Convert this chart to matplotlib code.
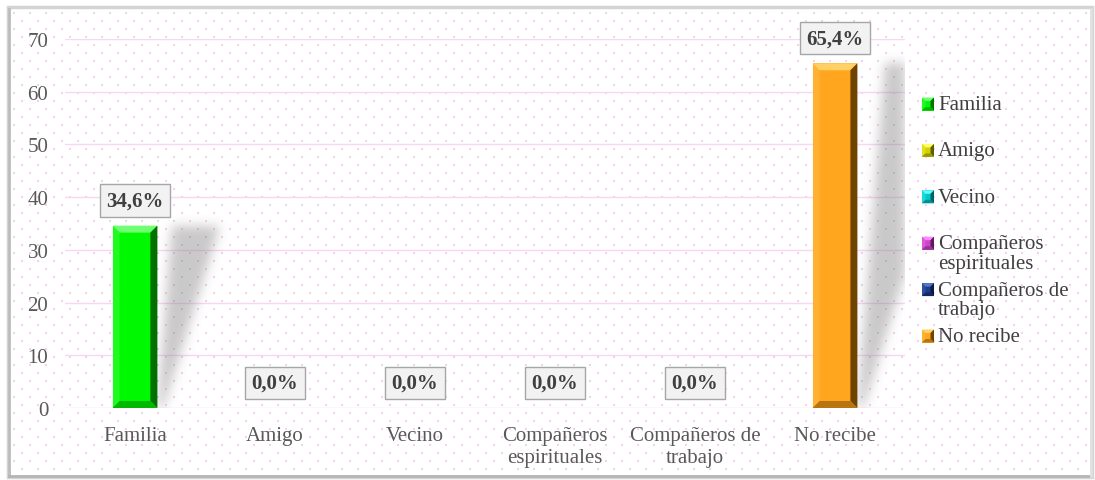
import numpy as np
import matplotlib
matplotlib.use("Agg")
import matplotlib.pyplot as plt
from matplotlib.patches import Rectangle, Polygon

plt.rcParams['font.family'] = 'serif'
plt.rcParams['font.serif'] = ['Liberation Serif', 'Times New Roman', 'DejaVu Serif']

# data
categories = ['Familia', 'Amigo', 'Vecino', 'Compañeros\nespirituales',
              'Compañeros de\ntrabajo', 'No recibe']
legend_labels = ['Familia', 'Amigo', 'Vecino', 'Compañeros\nespirituales',
                 'Compañeros de\ntrabajo', 'No recibe']
values = [34.6, 0.0, 0.0, 0.0, 0.0, 65.4]
value_labels = ['34,6%', '0,0%', '0,0%', '0,0%', '0,0%', '65,4%']
yticks = [0, 10, 20, 30, 40, 50, 60, 70]

# colours: main, light bevel, dark bevel, bottom bevel
main_colors = ['#00f800', '#d2d200', '#00c8c8', '#cc44cc', '#1c3c8c', '#ffa51e']
light_colors = ['#70ff70', '#ffff66', '#66ffff', '#ff88ff', '#5577cc', '#ffd066']
dark_colors = ['#007000', '#5e5e00', '#006060', '#5a1f5a', '#0a1a40', '#6e4400']
bottom_colors = ['#00b800', '#9a9a00', '#009090', '#993399', '#12285e', '#b87410']

W, H = 1095, 481
fig = plt.figure(figsize=(W / 100, H / 100), dpi=100)

# background layer in pixel coordinates
bg = fig.add_axes([0, 0, 1, 1], zorder=0)
bg.set_xlim(0, W)
bg.set_ylim(H, 0)
bg.axis('off')
bg.add_patch(Rectangle((8, 8), 1084, 470, facecolor='white', edgecolor='#d4d4d4', lw=2.5))
bg.plot([9, 9], [10, 477], color='#bdbdbd', lw=2)
bg.plot([9, 1091], [477, 477], color='#b5b5b5', lw=2)
bg.plot([1091, 1091], [10, 477], color='#e0e0e0', lw=2)
# dotted texture
dx, dy = 16, 8
pts = []
for r, yy in enumerate(np.arange(14, 474, dy)):
    off = 0 if r % 2 == 0 else dx / 2
    for xx in np.arange(14 + off, 1088, dx):
        pts.append((xx, yy))
pts = np.array(pts)
bg.scatter(pts[:, 0], pts[:, 1], s=1.6, marker='s', color='#f29ce9', alpha=0.5,
           linewidths=0)

# main plot axes
left, right, top, bottom = 65, 905, 40, 409
ax = fig.add_axes([left / W, 1 - bottom / H, (right - left) / W, (bottom - top) / H], zorder=1)
ax.set_facecolor('none')
ax.set_xlim(-0.5, 5.5)
ax.set_ylim(0, 70)
for s in ax.spines.values():
    s.set_visible(False)
ax.set_yticks(yticks)
ax.yaxis.grid(True, color='#f8d6f4', lw=1)
ax.set_axisbelow(True)
ax.tick_params(axis='y', length=0, pad=12, labelsize=15, labelcolor='#595959')
ax.set_xticks(range(len(categories)))
ax.set_xticklabels(categories, linespacing=1.2)
ax.tick_params(axis='x', length=0, pad=13, labelsize=15, labelcolor='#595959')

axw = right - left
axh = bottom - top
px_per_x = axw / 6.0
px_per_y = axh / 70.0
bw = 0.32

# soft shadows behind the bars
gx = np.arange(axw) + 0.5
gy = np.arange(axh) + 0.5
PX, PY = np.meshgrid(gx, gy)
mask = np.zeros((axh, axw))
for i, v in enumerate(values):
    if v <= 0:
        continue
    xr = (i + bw / 2 + 0.5) * px_per_x
    hb = v * px_per_y
    lo = xr + 0.08 * PY
    hi = xr + 6 + 0.31 * PY
    mask[(PY <= hb) & (PX >= lo) & (PX <= hi)] = 1.0
k = np.exp(-0.5 * (np.arange(-18, 19) / 5.5) ** 2)
k /= k.sum()
mask = np.apply_along_axis(lambda r: np.convolve(r, k, mode='same'), 1, mask)
mask = np.apply_along_axis(lambda c: np.convolve(c, k, mode='same'), 0, mask)
img = np.zeros((axh, axw, 4))
img[..., :3] = 0.5
img[..., 3] = mask * 0.42
ax.imshow(img, extent=(-0.5, 5.5, 0, 70), origin='lower', aspect='auto',
          interpolation='bilinear', zorder=1.5)

# bars with bevelled edges
bars = ax.bar(range(len(values)), values, width=bw, color=main_colors,
              edgecolor='none', zorder=2)


def bevel(a, x0, y0, w, h, bx, by, light, dark, bot, **kw):
    x1, y1 = x0 + w, y0 + h
    a.add_patch(Polygon([(x0, y1), (x1, y1), (x1 - bx, y1 - by), (x0 + bx, y1 - by)],
                        closed=True, facecolor=light, edgecolor='none', **kw))
    a.add_patch(Polygon([(x0, y0), (x0, y1), (x0 + bx, y1 - by), (x0 + bx, y0 + by)],
                        closed=True, facecolor=light, edgecolor='none', alpha=0.3, **kw))
    a.add_patch(Polygon([(x1, y0), (x1, y1), (x1 - bx, y1 - by), (x1 - bx, y0 + by)],
                        closed=True, facecolor=dark, edgecolor='none', **kw))
    a.add_patch(Polygon([(x0, y0), (x1, y0), (x1 - bx, y0 + by), (x0 + bx, y0 + by)],
                        closed=True, facecolor=bot, edgecolor='none', **kw))


for i, b in enumerate(bars):
    if b.get_height() <= 0:
        continue
    bevel(ax, b.get_x(), 0, b.get_width(), b.get_height(), 7 / px_per_x, 7 / px_per_y,
          light_colors[i], dark_colors[i], bottom_colors[i], zorder=2.1)

# data labels
for i, b in enumerate(bars):
    ax.annotate(value_labels[i], (b.get_x() + b.get_width() / 2, b.get_height()),
                xytext=(0, 25), textcoords='offset pixels', ha='center', va='center',
                fontsize=15, fontweight='bold', color='#404040', zorder=3,
                bbox=dict(boxstyle='square,pad=0.3', facecolor='#f2f2f2',
                          edgecolor='#a6a6a6', lw=1))

# legend
leg_y0, leg_step = 105, 46.4
for i, lab in enumerate(legend_labels):
    yc = leg_y0 + i * leg_step
    bg.add_patch(Rectangle((922, yc - 6.5), 12, 13, facecolor=main_colors[i],
                           edgecolor='none', zorder=2.9))
    bevel(bg, 922, yc + 6.5, 12, -13, 3.5, -3.5, light_colors[i], dark_colors[i],
          bottom_colors[i], zorder=3)
    bg.text(938, yc - 9, lab, fontsize=15, color='#404040', va='top', ha='left',
            linespacing=1.05)

fig.savefig('out.png', dpi=100)
